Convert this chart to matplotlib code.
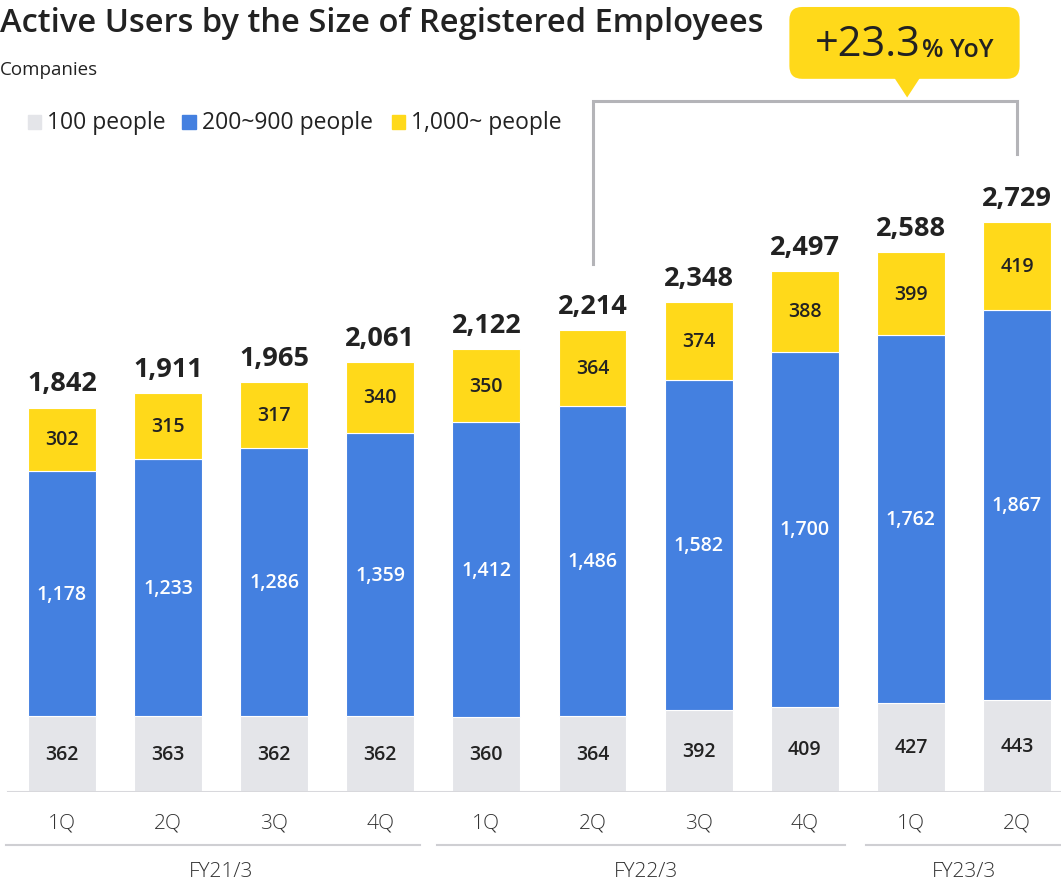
import numpy as np
import matplotlib.pyplot as plt
from matplotlib.patches import FancyBboxPatch, Polygon

plt.rcParams['font.family'] = ['Open Sans', 'DejaVu Sans']

# data
quarters = ['1Q', '2Q', '3Q', '4Q', '1Q', '2Q', '3Q', '4Q', '1Q', '2Q']
years = ['FY21/3', 'FY22/3', 'FY23/3']
small = [362, 363, 362, 362, 360, 364, 392, 409, 427, 443]
middle = [1178, 1233, 1286, 1359, 1412, 1486, 1582, 1700, 1762, 1867]
large = [302, 315, 317, 340, 350, 364, 374, 388, 399, 419]
totals = [1842, 1911, 1965, 2061, 2122, 2214, 2348, 2497, 2588, 2729]
series_names = ['100 people', '200~900 people', '1,000~ people']

grey = '#E4E5E9'
blue = '#4480E0'
yellow = '#FFD91A'
dark = '#222222'

fig = plt.figure(figsize=(10.61, 8.87), dpi=100)
ax = fig.add_axes([0, 0.106, 1, 0.894])

x = np.arange(len(quarters))
w = 0.64
small = np.array(small)
middle = np.array(middle)
large = np.array(large)

ax.bar(x, small, w, color=grey, edgecolor='white', linewidth=0.8)
ax.bar(x, middle, w, bottom=small, color=blue, edgecolor='white', linewidth=0.8)
ax.bar(x, large, w, bottom=small + middle, color=yellow, edgecolor='white', linewidth=0.8)

for i in range(len(x)):
    ax.text(x[i], small[i] / 2, str(small[i]), ha='center', va='center',
            fontsize=14, fontweight='semibold', color=dark)
    ax.text(x[i], small[i] + middle[i] / 2, f'{middle[i]:,}', ha='center', va='center',
            fontsize=14, fontweight='semibold', color='white')
    ax.text(x[i], small[i] + middle[i] + large[i] / 2, str(large[i]), ha='center', va='center',
            fontsize=14, fontweight='semibold', color=dark)
    ax.annotate(f'{totals[i]:,}', (x[i], totals[i]), xytext=(0, 8), textcoords='offset points',
                ha='center', va='bottom', fontsize=19.5, fontweight='bold', color=dark)

ax.set_xlim(-0.584, 9.415)
ax.set_ylim(0, 3800)
ax.axis('off')
ax.axhline(0, xmin=0.008, xmax=1, color='#D8D8DC', lw=1.5)

# bracket 2Q FY22 -> 2Q FY23
ax.plot([5, 5, 9, 9], [2530, 3311, 3311, 3057], color='#B4B4B8', lw=2.2,
        solid_joinstyle='miter', clip_on=False)

# quarter and year labels
for i in range(len(x)):
    ax.text(x[i], -145, quarters[i], ha='center', va='center', fontsize=15,
            color='#333333', fontweight='light')
year_spans = [(-0.53, 3.37), (3.53, 7.38), (7.58, 9.42)]
year_centers = [1.5, 5.5, 8.5]
for (a, b), c, lab in zip(year_spans, year_centers, years):
    ax.plot([a, b], [-255, -255], color='#CFCFD3', lw=1.5, clip_on=False)
    ax.text(c, -380, lab, ha='center', va='center', fontsize=15,
            color='#333333', fontweight='light')

# title
fig.text(0.0, 0.974, 'Active Users by the Size of Registered Employees', ha='left', va='center',
         fontsize=23.5, fontweight='semibold', color=dark)
fig.text(0.0, 0.921, 'Companies', ha='left', va='center', fontsize=13.5, color=dark)

# legend
lx = [0.026, 0.172, 0.369]
cols = [grey, blue, yellow]
for px, c, lab in zip(lx, cols, series_names):
    fig.patches.append(plt.Rectangle((px, 0.853), 0.0123, 0.016, transform=fig.transFigure,
                                     color=c, figure=fig))
    fig.text(px + 0.0185, 0.861, lab, ha='left', va='center', fontsize=16.5, color=dark)

# callout box
box = FancyBboxPatch((0.744, 0.910), 0.217, 0.081, boxstyle='round,pad=0,rounding_size=0.012',
                     transform=fig.transFigure, facecolor=yellow, edgecolor='none', figure=fig,
                     mutation_aspect=1.2)
fig.patches.append(box)
tri = Polygon([[0.843, 0.911], [0.867, 0.911], [0.855, 0.889]], closed=True,
              transform=fig.transFigure, facecolor=yellow, edgecolor='none', figure=fig)
fig.patches.append(tri)
fig.text(0.868, 0.949, '+23.3', ha='right', va='center', fontsize=30, color=dark)
fig.text(0.869, 0.943, '% YoY', ha='left', va='center', fontsize=18, fontweight='semibold', color=dark)

fig.savefig('out.png', dpi=100)
